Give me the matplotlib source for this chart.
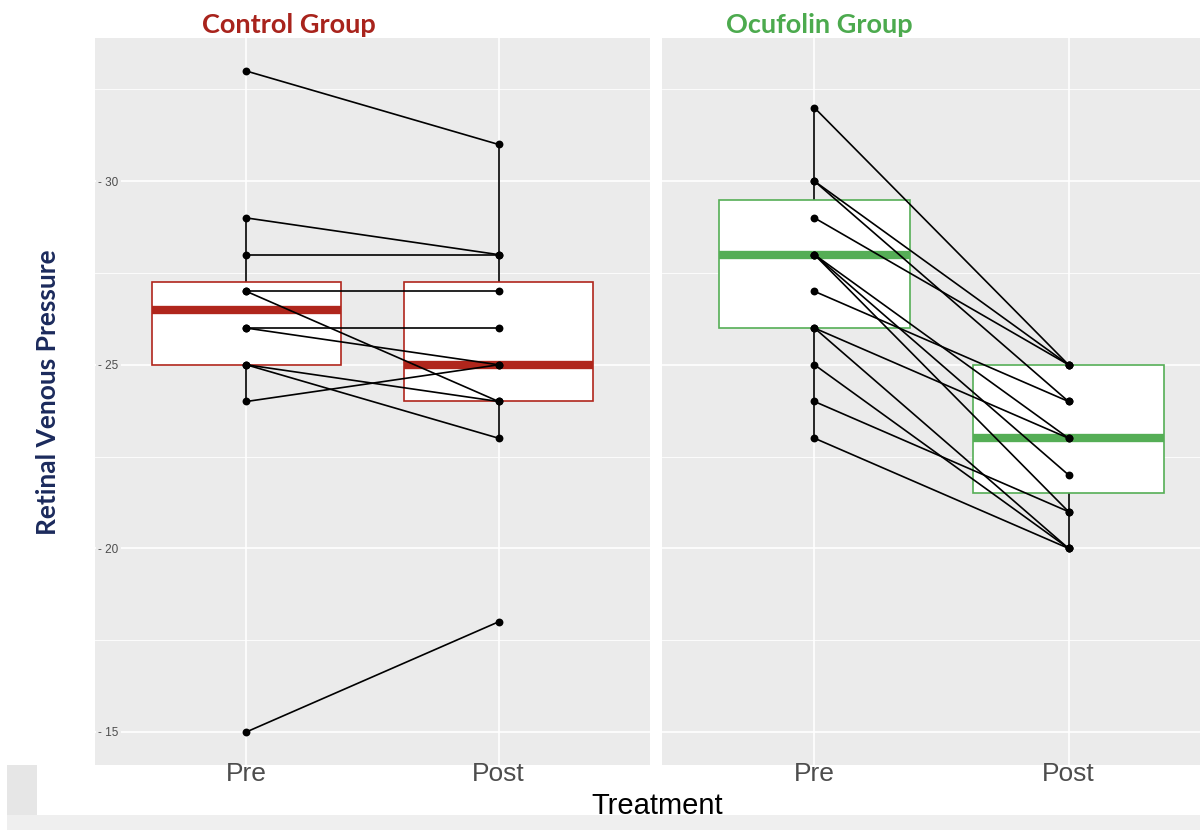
import matplotlib
matplotlib.use("Agg")
import matplotlib.pyplot as plt
from matplotlib.patches import Rectangle

# ---------------- data ----------------
categories = ["Pre", "Post"]

control_pre = [33, 29, 28, 27, 27, 26, 26, 25, 25, 24, 15]
control_post = [31, 28, 28, 27, 24, 26, 25, 24, 23, 25, 18]

ocufolin_pre = [32, 30, 30, 29, 28, 28, 28, 27, 26, 26, 25, 24, 23]
ocufolin_post = [25, 25, 24, 25, 23, 22, 21, 24, 23, 20, 20, 21, 20]

# box statistics (q1, median, q3, lower whisker, upper whisker)
control_q1 = [25, 24]
control_med = [26.5, 25]
control_q3 = [27.25, 27.25]
control_wlo = [24, 23]
control_whi = [29, 31]

ocufolin_q1 = [26, 21.5]
ocufolin_med = [28, 23]
ocufolin_q3 = [29.5, 25]
ocufolin_wlo = [23, 20]
ocufolin_whi = [32, 25]

y_ticks = [15, 20, 25, 30]
titles = ["Control Group", "Ocufolin Group"]

# ---------------- style ----------------
W, H = 1200, 830
fig = plt.figure(figsize=(W / 100, H / 100), dpi=100)
fig.patch.set_facecolor("white")

red = "#B0261C"
red_title = "#A8231C"
green = "#55AE56"
green_title = "#4CAA4E"
panel_bg = "#EBEBEB"


def px_axes(x0, x1, y0, y1):
    return fig.add_axes([x0 / W, 1 - y1 / H, (x1 - x0) / W, (y1 - y0) / H])


ax1 = px_axes(95, 650, 38, 765)
ax2 = px_axes(662, 1221, 38, 765)

# background artefacts (light grey L-shape at bottom left)
fig.patches.append(Rectangle((7 / W, 0), 30 / W, 65 / H, transform=fig.transFigure,
                             facecolor="#E6E6E6", edgecolor="none", zorder=0))
fig.patches.append(Rectangle((7 / W, 0), 1193 / W, 15 / H, transform=fig.transFigure,
                             facecolor="#EFEFEF", edgecolor="none", zorder=0))


def draw_panel(ax, pre, post, q1, med, q3, wlo, whi, color, show_y):
    ax.set_facecolor(panel_bg)
    for s in ax.spines.values():
        s.set_visible(False)

    stats = []
    for i in range(2):
        stats.append(dict(q1=q1[i], med=med[i], q3=q3[i], whislo=wlo[i], whishi=whi[i],
                          fliers=[]))
    bp = ax.bxp(stats, positions=[1, 2], widths=0.75, patch_artist=True,
                showfliers=False, showcaps=False,
                boxprops=dict(facecolor="white", edgecolor=color, linewidth=1.2),
                medianprops=dict(color=color, linewidth=6, solid_capstyle="butt"),
                whiskerprops=dict(color="black", linewidth=1.2))
    for w in bp["whiskers"]:
        w.set_zorder(1.5)
    for b in bp["boxes"]:
        b.set_zorder(2)
    for m in bp["medians"]:
        m.set_zorder(2.5)

    for a, b in zip(pre, post):
        ax.plot([1, 2], [a, b], color="black", linewidth=1.2, zorder=3)
    ax.scatter([1] * len(pre), pre, s=32, color="black", zorder=4, linewidths=0)
    ax.scatter([2] * len(post), post, s=32, color="black", zorder=4, linewidths=0)

    ax.set_xlim(0.4, 2.6)
    ax.set_ylim(14.1, 33.9)
    ax.set_xticks([1, 2])
    ax.set_xticklabels(categories, fontsize=19, color="#4D4D4D", family="Liberation Sans")
    ax.tick_params(axis="x", length=0, pad=-2)
    ax.set_yticks(y_ticks)
    ax.set_yticks([17.5, 22.5, 27.5, 32.5], minor=True)
    ax.tick_params(axis="y", which="both", length=0)
    if show_y:
        ax.set_yticklabels(["- %d" % v for v in y_ticks], fontsize=8.5, color="#4D4D4D",
                           family="Liberation Sans")
        ax.tick_params(axis="y", pad=-17)
        for lab in ax.get_yticklabels():
            lab.set_bbox(dict(facecolor=panel_bg, edgecolor="none", pad=1.5))
            lab.set_zorder(10)
    else:
        ax.set_yticklabels([])
    ax.grid(True, which="major", color="white", linewidth=1.2)
    ax.grid(True, which="minor", axis="y", color="white", linewidth=0.6)
    ax.set_axisbelow(True)


draw_panel(ax1, control_pre, control_post, control_q1, control_med, control_q3,
           control_wlo, control_whi, red, True)
draw_panel(ax2, ocufolin_pre, ocufolin_post, ocufolin_q1, ocufolin_med, ocufolin_q3,
           ocufolin_wlo, ocufolin_whi, green, False)

fig.text(289 / W, 1 - 25 / H, titles[0], color=red_title, fontsize=19.5, fontweight="bold",
         family="Lato", ha="center", va="center")
fig.text(819 / W, 1 - 25 / H, titles[1], color=green_title, fontsize=19.5, fontweight="bold",
         family="Lato", ha="center", va="center")

fig.text(48 / W, 1 - 392 / H, "Retinal Venous Pressure", color="#1B2A5C", fontsize=19,
         fontweight="bold", family="Lato", rotation=90, ha="center", va="center")
fig.text(657 / W, 1 - 806 / H, "Treatment", color="black", fontsize=21,
         family="Liberation Sans", ha="center", va="center")

fig.savefig("out.png", dpi=100)
